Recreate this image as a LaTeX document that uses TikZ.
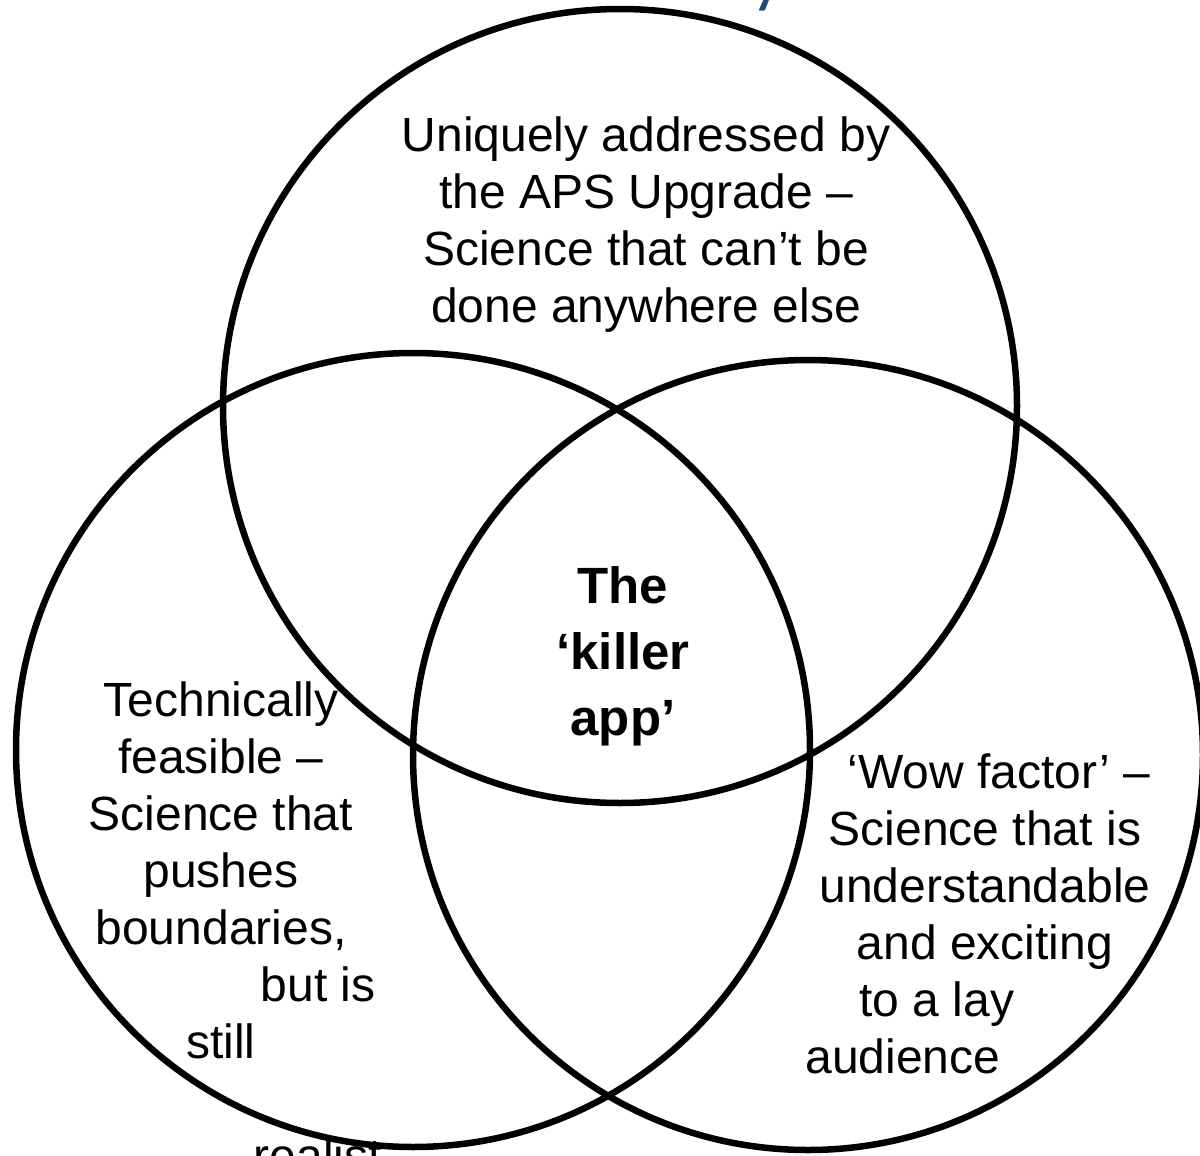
\documentclass[tikz,border=0pt]{standalone}
\usepackage{fontspec}
\setmainfont{Liberation Sans}
\newfontfamily\titlefont{Carlito}
\usepackage{tikz}
\usetikzlibrary{positioning}
\definecolor{titleblue}{RGB}{31,73,125}
\tikzset{
venn_circle/.style={circle, draw, line width=6.5pt, color=black, inner sep=0pt, minimum size=#1},
region_text/.style={align=center, anchor=base, inner sep=0pt, text=black, font=\fontsize{48}{57}\selectfont},
core_text/.style={align=center, anchor=base, inner sep=0pt, text=black, font=\fontsize{51}{66}\selectfont\bfseries},
title_part/.style={anchor=base, inner sep=0pt, text=titleblue, font=\titlefont\fontsize{72}{80}\selectfont}
}

\begin{document}
\begin{tikzpicture}[x=1pt, y=-1pt]
    \useasboundingbox (0,0) rectangle (1200,1156);
    \clip (0,0) rectangle (1200,1156);
    % title runs off the top edge
    \node[title_part] (title_tail) at (768,0) {y};
    % the three circles
    \node[venn_circle=794pt] (circle_top) at (620,406) {};
    \node[venn_circle=794pt] (circle_left) at (413,750) {};
    \node[venn_circle=790pt] (circle_right) at (808,755) {};
    % texts (base = last line)
    \node[region_text] (text_top) at (646,322) {Uniquely addressed by\\the APS Upgrade --\\Science that can't be\\done anywhere else};
    \node[region_text] (text_left) at (221,1172) {Technically\\feasible --\\Science that\\pushes\\boundaries,\\\hspace*{194pt}but is\\still\\\mbox{}\\\hspace*{194pt}realist};
    \node[region_text] (text_right) at (985,1073) {\hspace*{28pt}`Wow factor' --\\Science that is\\understandable\\and exciting\\to a lay\hbox to 96pt{}\\audience\hbox to 164pt{}};
    \node[core_text] (text_core) at (623,735) {The\\`killer\\app'};
\end{tikzpicture}
\end{document}
